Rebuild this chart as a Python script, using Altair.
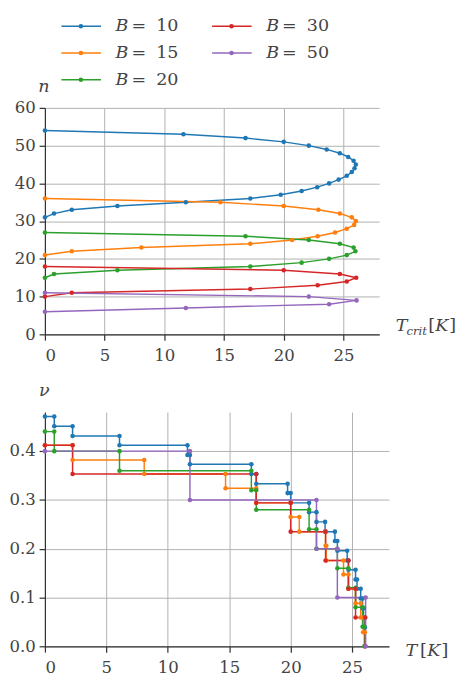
import altair as alt
import pandas as pd

FONT = "DejaVu Serif"
FS = 17
TS = 18
TXT = "#444444"
B_VALUES = [10, 15, 20, 30, 50]
COLORS = ["#1f77b4", "#ff7f0e", "#2ca02c", "#d62728", "#9467bd"]

# ---------------- top panel: critical temperature per n ----------------
n_b10 = [54, 53, 52, 51, 50, 49, 48, 47, 46, 45, 44, 43, 42, 41, 40, 39, 38, 37, 36, 35, 34, 33, 32, 31]
tc_b10 = [0.0, 11.6, 16.8, 20.0, 22.1, 23.6, 24.7, 25.4, 25.85, 26.04, 25.93, 25.7, 25.28, 24.6, 23.8, 22.8,
          21.5, 19.75, 17.2, 11.8, 6.07, 2.25, 0.76, 0.0]
n_b15 = [36, 35, 34, 33, 32, 31, 30, 29, 28, 27, 26, 25, 24, 23, 22, 21]
tc_b15 = [0.0, 14.7, 20.0, 22.9, 24.7, 25.7, 26.04, 25.9, 25.28, 24.3, 22.84, 20.7, 17.2, 8.08, 2.25, 0.0]
n_b20 = [27, 26, 25, 24, 23, 22, 21, 20, 19, 18, 17, 16, 15]
tc_b20 = [0.0, 16.8, 22.1, 24.7, 25.85, 26.0, 25.28, 23.8, 21.5, 17.2, 6.07, 0.76, 0.0]
n_b30 = [18, 17, 16, 15, 14, 13, 12, 11, 10]
tc_b30 = [0.0, 20.0, 24.7, 26.07, 25.28, 22.84, 17.2, 2.25, 0.0]
n_b50 = [11, 10, 9, 8, 7, 6]
tc_b50 = [0.0, 22.1, 26.1, 23.8, 11.8, 0.0]

# ---------------- bottom panel: step curves nu(T) ----------------
edges_b10 = [0.0, 0.76, 2.25, 6.07, 11.6, 11.8, 16.8, 17.2, 19.75, 20.0, 21.5, 22.1, 22.8, 23.6, 23.8,
             24.6, 24.7, 25.28, 25.4, 25.7, 25.85, 25.93, 26.04]
nu_b10 = [0.471, 0.451, 0.431, 0.412, 0.392, 0.373, 0.353, 0.333, 0.314, 0.294, 0.275, 0.255, 0.235,
          0.216, 0.196, 0.176, 0.157, 0.137, 0.118, 0.098, 0.078, 0.059, 0.039]
edges_b15 = [0.0, 2.25, 8.08, 14.7, 17.2, 20.0, 20.7, 22.84, 22.9, 24.3, 24.7, 25.28, 25.7, 25.9, 26.04]
nu_b15 = [0.412, 0.382, 0.353, 0.324, 0.294, 0.265, 0.235, 0.206, 0.176, 0.147, 0.118, 0.088, 0.059, 0.029, 0.0]
edges_b20 = [0.0, 0.76, 6.07, 16.8, 17.2, 21.5, 22.1, 23.8, 24.7, 25.28, 25.85, 26.0]
nu_b20 = [0.44, 0.40, 0.36, 0.32, 0.28, 0.24, 0.20, 0.16, 0.12, 0.08, 0.04, 0.0]
edges_b30 = [0.0, 2.25, 17.2, 20.0, 22.84, 24.7, 25.28, 26.07]
nu_b30 = [0.412, 0.353, 0.294, 0.235, 0.176, 0.118, 0.059, 0.0]
edges_b50 = [0.0, 11.8, 22.1, 23.8, 26.1]
nu_b50 = [0.4, 0.3, 0.2, 0.1, 0.0]

top_series = [(n_b10, tc_b10), (n_b15, tc_b15), (n_b20, tc_b20), (n_b30, tc_b30), (n_b50, tc_b50)]
bot_series = [(edges_b10, nu_b10), (edges_b15, nu_b15), (edges_b20, nu_b20), (edges_b30, nu_b30),
              (edges_b50, nu_b50)]

rows = []
for b, (ns, ts) in zip(B_VALUES, top_series):
    for i, (n, t) in enumerate(zip(ns, ts)):
        rows.append({"B": b, "i": i, "T": t, "n": n})
df_top = pd.DataFrame(rows)

rows = []
for b, (es, lv) in zip(B_VALUES, bot_series):
    k = 0
    for j, e in enumerate(es):
        if j > 0:
            rows.append({"B": b, "i": k, "T": e, "nu": lv[j - 1]}); k += 1
        rows.append({"B": b, "i": k, "T": e, "nu": lv[j]}); k += 1
df_bot = pd.DataFrame(rows)

color = alt.Color("B:N", scale=alt.Scale(domain=B_VALUES, range=COLORS), legend=None)
AX = dict(labelFont=FONT, labelFontSize=FS, labelColor=TXT, domainColor="#333333", domainWidth=1.25,
          tickColor="#333333", tickWidth=1.25, tickSize=6, gridColor="#b0b0b0", gridWidth=1, title=None)


def px(field):
    return alt.X(field, scale=None, axis=None)


def py(field):
    return alt.Y(field, scale=None, axis=None)


def text_layer(df, italic, size, align="left", baseline="alphabetic"):
    return alt.Chart(df).mark_text(font=FONT, fontSize=size, fontStyle="italic" if italic else "normal",
                                   align=align, baseline=baseline, color=TXT).encode(
        x=px("x:Q"), y=py("y:Q"), text="t:N")


# ---- top chart ----
xt = alt.X("T:Q", scale=alt.Scale(domain=[0, 28], nice=False),
           axis=alt.Axis(values=[0, 5, 10, 15, 20, 25], labelPadding=7.5, **AX))
yt = alt.Y("n:Q", scale=alt.Scale(domain=[0, 60], nice=False),
           axis=alt.Axis(values=[0, 10, 20, 30, 40, 50, 60], labelPadding=4, **AX))
top_main = alt.layer(
    alt.Chart(df_top).mark_line(strokeWidth=1.5).encode(x=xt, y=yt, color=color, order="i:Q"),
    alt.Chart(df_top).mark_circle(size=22, opacity=1).encode(x=xt, y=yt, color=color),
)

leg = pd.DataFrame({"B": B_VALUES, "lab": [str(b) for b in B_VALUES]})
leg["col"] = [i // 3 for i in range(len(B_VALUES))]
leg["row"] = [i % 3 for i in range(len(B_VALUES))]
leg["x1"] = 17 + leg["col"] * 155
leg["x2"] = leg["x1"] + 40.7
leg["xd"] = leg["x1"] + 20
leg["y"] = -84 + leg["row"] * 27.5
leg_B = pd.DataFrame({"x": leg["x1"] + 55.7, "y": leg["y"], "t": "B"})
leg_eq = pd.DataFrame({"x": leg["x1"] + 72, "y": leg["y"], "t": "="})
leg_val = pd.DataFrame({"x": leg["x1"] + 97.5, "y": leg["y"], "t": leg["lab"]})

legend_layers = [
    alt.Chart(leg).mark_rule(strokeWidth=1.5).encode(x=px("x1:Q"), x2="x2:Q", y=py("y:Q"), color=color),
    alt.Chart(leg).mark_circle(size=22, opacity=1).encode(x=px("xd:Q"), y=py("y:Q"), color=color),
    text_layer(leg_B, True, TS, baseline="middle"),
    text_layer(leg_eq, False, TS, baseline="middle"),
    text_layer(leg_val, False, TS, baseline="middle"),
]

top_it = pd.DataFrame({"x": [361, 401.5], "y": [230, 230], "t": ["T", "K"]})
top_n = pd.DataFrame({"x": [-1], "y": [-16], "t": ["n"]})
top_sub = pd.DataFrame({"x": [372], "y": [234], "t": ["crit"]})
top_up = pd.DataFrame({"x": [394.5, 416], "y": [230, 230], "t": ["[", "]"]})

top = alt.layer(
    top_main, *legend_layers,
    text_layer(top_it, True, TS), text_layer(top_n, True, TS, "center"),
    text_layer(top_sub, True, 12), text_layer(top_up, False, TS),
).resolve_scale(x="independent", y="independent").properties(width=344, height=233)

# ---- bottom chart ----
xb = alt.X("T:Q", scale=alt.Scale(domain=[0, 28], nice=False),
           axis=alt.Axis(values=[0, 5, 10, 15, 20, 25], labelPadding=7.5, **AX))
yb = alt.Y("nu:Q", scale=alt.Scale(domain=[0, 0.48], nice=False),
           axis=alt.Axis(values=[0, 0.1, 0.2, 0.3, 0.4], format=".1f", labelPadding=4, **AX))
bot_main = alt.layer(
    alt.Chart(df_bot).mark_line(strokeWidth=1.5).encode(x=xb, y=yb, color=color, order="i:Q"),
    alt.Chart(df_bot).mark_circle(size=22, opacity=1).encode(x=xb, y=yb, color=color),
)
bot_it = pd.DataFrame({"x": [371, 393.5], "y": [250.7, 250.7], "t": ["T", "K"]})
bot_nu = pd.DataFrame({"x": [-0.7], "y": [-17], "t": ["ν"]})
bot_up = pd.DataFrame({"x": [386, 408], "y": [250.7, 250.7], "t": ["[", "]"]})
bottom = alt.layer(
    bot_main, text_layer(bot_it, True, TS), text_layer(bot_nu, True, TS, "center"),
    text_layer(bot_up, False, TS),
).resolve_scale(x="independent", y="independent").properties(width=354, height=241)

chart = alt.vconcat(top, bottom, spacing=19).properties(padding=0, background="white").configure_view(
    stroke=None)

chart.save("out.html", embed_options={"renderer": "svg", "actions": False})
